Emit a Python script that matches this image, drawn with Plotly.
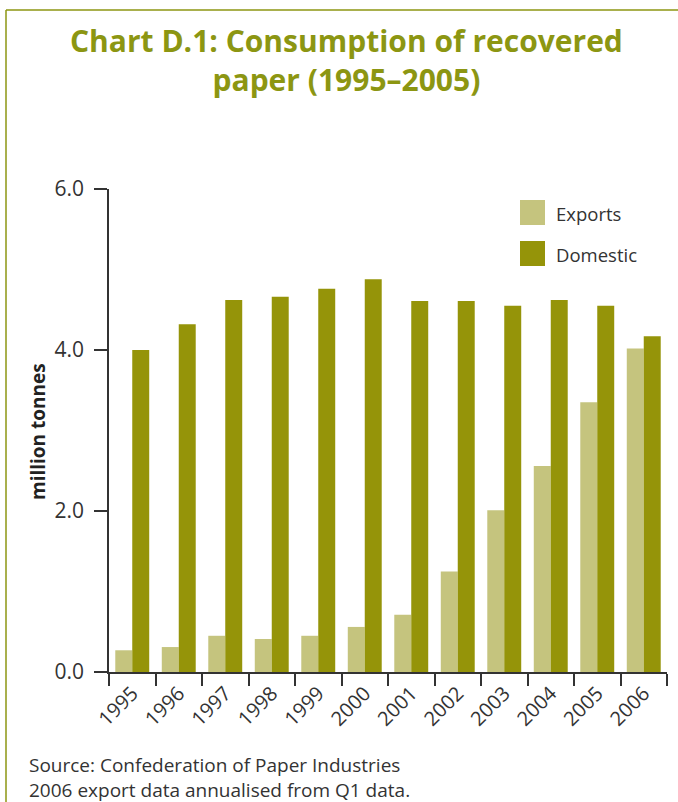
import plotly.graph_objects as go

years = ["1995", "1996", "1997", "1998", "1999", "2000",
         "2001", "2002", "2003", "2004", "2005", "2006"]
exports = [0.27, 0.31, 0.45, 0.41, 0.45, 0.56, 0.71, 1.25, 2.01, 2.56, 3.35, 4.02]
domestic = [4.00, 4.32, 4.62, 4.66, 4.76, 4.88, 4.61, 4.61, 4.55, 4.62, 4.55, 4.17]
y_ticks = [0, 2, 4, 6]
y_tick_text = ["0.0", "2.0", "4.0", "6.0"]
series_names = ["Exports", "Domestic"]

EXPORT_COLOR = "#C5C47E"
DOMESTIC_COLOR = "#959409"
TITLE_COLOR = "#8C9612"
TEXT_COLOR = "#333333"
FONT = "Open Sans"

# Plot area in pixels: x 109..667, y 189..672
W, H = 678, 802
L, R, T, B = 109, 11, 189, 130
PW, PH = W - L - R, H - T - B


def px(x):
    return (x - L) / PW


def py(y):
    return (H - B - y) / PH


fig = go.Figure()
for name, vals, color in [(series_names[0], exports, EXPORT_COLOR),
                          (series_names[1], domestic, DOMESTIC_COLOR)]:
    fig.add_trace(go.Bar(x=years, y=vals, name=name,
                         marker=dict(color=color, line=dict(width=0)),
                         showlegend=False))

fig.update_layout(
    width=W, height=H,
    margin=dict(l=L, r=R, t=T, b=B),
    paper_bgcolor="white", plot_bgcolor="white",
    barmode="group", bargap=0.27, bargroupgap=0,
    font=dict(family=FONT, color=TEXT_COLOR),
    showlegend=False,
    xaxis=dict(type="category", tickson="boundaries", ticks="outside",
               ticklen=12, tickwidth=1.5, tickcolor=TEXT_COLOR,
               showline=True, linecolor=TEXT_COLOR, linewidth=1.5,
               tickangle=-45, tickfont=dict(size=20, color=TEXT_COLOR),
               showgrid=False, zeroline=False),
    yaxis=dict(range=[0, 6], tickvals=y_ticks, ticktext=y_tick_text,
               ticks="outside", ticklen=13, tickwidth=1.5, tickcolor=TEXT_COLOR,
               showline=True, linecolor=TEXT_COLOR, linewidth=1.5,
               tickfont=dict(size=21, color=TEXT_COLOR), ticklabelstandoff=6,
               showgrid=False, zeroline=False),
)

# Panel frame along the left and top edges
fig.add_shape(type="line", xref="paper", yref="paper",
              x0=px(6), x1=px(6), y0=py(802), y1=py(10),
              line=dict(color=TITLE_COLOR, width=1.5))
fig.add_shape(type="line", xref="paper", yref="paper",
              x0=px(6), x1=px(678), y0=py(10), y1=py(10),
              line=dict(color=TITLE_COLOR, width=1.5))

# Legend: square swatches with labels
for i, (name, color) in enumerate(zip(series_names, [EXPORT_COLOR, DOMESTIC_COLOR])):
    top = 200 + i * 41
    fig.add_shape(type="rect", xref="paper", yref="paper",
                  x0=px(520), x1=px(545), y0=py(top + 25), y1=py(top),
                  fillcolor=color, line=dict(width=0))
    fig.add_annotation(text=name, xref="paper", yref="paper",
                       x=px(554), y=py(top + 13), xanchor="left", yanchor="middle",
                       showarrow=False, font=dict(size=18.5, color=TEXT_COLOR, family=FONT))

fig.add_annotation(text="<b>million tonnes</b>", xref="paper", yref="paper",
                   x=px(38), y=py(432), textangle=-90, showarrow=False,
                   xanchor="center", yanchor="middle",
                   font=dict(size=19, color="#222222", family=FONT))

fig.add_annotation(text="<b>Chart D.1: Consumption of recovered<br>paper (1995–2005)</b>",
                   xref="paper", yref="paper", x=px(346), y=py(60),
                   xanchor="center", yanchor="middle", showarrow=False, align="center",
                   font=dict(size=30, color=TITLE_COLOR, family=FONT))
fig.add_annotation(text="Source: Confederation of Paper Industries<br>2006 export data annualised from Q1 data.",
                   xref="paper", yref="paper", x=px(27), y=py(777),
                   xanchor="left", yanchor="middle", showarrow=False, align="left",
                   font=dict(size=19, color=TEXT_COLOR, family=FONT))

fig.write_html("out.html")
